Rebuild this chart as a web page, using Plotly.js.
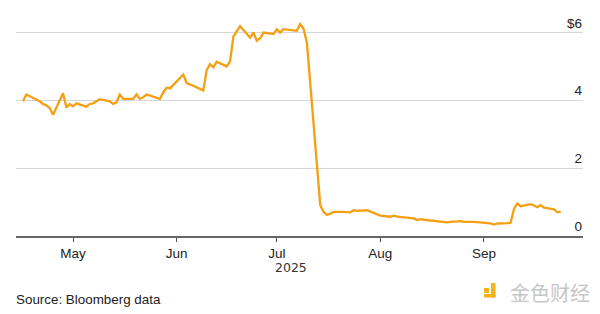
<!DOCTYPE html>
<html>
<head>
<meta charset="utf-8">
<script src="https://cdn.plot.ly/plotly-3.0.1.min.js"></script>
<style>
  html, body { margin: 0; padding: 0; background: #fff; }
  #chart { width: 600px; height: 314px; }
</style>
</head>
<body>
<div id="chart"></div>
<script>
const dates = [
  '2025-04-16','2025-04-17','2025-04-21','2025-04-22','2025-04-23','2025-04-24','2025-04-25',
  '2025-04-28','2025-04-29','2025-04-30','2025-05-01','2025-05-02',
  '2025-05-05','2025-05-06','2025-05-07','2025-05-08','2025-05-09',
  '2025-05-12','2025-05-13','2025-05-14','2025-05-15','2025-05-16',
  '2025-05-19','2025-05-20','2025-05-21','2025-05-22','2025-05-23',
  '2025-05-27','2025-05-28','2025-05-29','2025-05-30',
  '2025-06-02','2025-06-03','2025-06-04','2025-06-05','2025-06-06',
  '2025-06-09','2025-06-10','2025-06-11','2025-06-12','2025-06-13',
  '2025-06-16','2025-06-17','2025-06-18','2025-06-20',
  '2025-06-23','2025-06-24','2025-06-25','2025-06-26','2025-06-27',
  '2025-06-30','2025-07-01','2025-07-02','2025-07-03',
  '2025-07-07','2025-07-08','2025-07-09','2025-07-10','2025-07-11',
  '2025-07-14','2025-07-15','2025-07-16','2025-07-17','2025-07-18',
  '2025-07-21','2025-07-22','2025-07-23','2025-07-24','2025-07-25',
  '2025-07-28','2025-07-29','2025-07-30','2025-07-31','2025-08-01',
  '2025-08-04','2025-08-05','2025-08-06','2025-08-07','2025-08-08',
  '2025-08-11','2025-08-12','2025-08-13','2025-08-14','2025-08-15',
  '2025-08-18','2025-08-19','2025-08-20','2025-08-21','2025-08-22',
  '2025-08-25','2025-08-26','2025-08-27','2025-08-28','2025-08-29',
  '2025-09-02','2025-09-03','2025-09-04','2025-09-05',
  '2025-09-08','2025-09-09','2025-09-10','2025-09-11','2025-09-12',
  '2025-09-15','2025-09-16','2025-09-17','2025-09-18','2025-09-19',
  '2025-09-22','2025-09-23','2025-09-24'
];
const prices = [
  3.98, 4.18, 3.98, 3.90, 3.86, 3.78, 3.58,
  4.22, 3.80, 3.90, 3.83, 3.92,
  3.82, 3.90, 3.92, 3.98, 4.04,
  3.98, 3.90, 3.95, 4.18, 4.05,
  4.05, 4.18, 4.05, 4.10, 4.18,
  4.05, 4.24, 4.38, 4.36,
  4.67, 4.77, 4.52, 4.49, 4.44,
  4.30, 4.90, 5.08, 4.98, 5.15,
  5.01, 5.16, 5.89, 6.20,
  5.86, 6.01, 5.77, 5.84, 6.01,
  5.97, 6.11, 6.01, 6.11,
  6.06, 6.26, 6.12, 5.72, 4.52,
  0.91, 0.71, 0.62, 0.66, 0.71,
  0.71, 0.71, 0.70, 0.76, 0.74,
  0.76, 0.72, 0.66, 0.62, 0.60,
  0.57, 0.60, 0.57, 0.56, 0.54,
  0.52, 0.47, 0.50, 0.48, 0.47,
  0.45, 0.44, 0.42, 0.40, 0.42,
  0.44, 0.42, 0.41, 0.42, 0.42,
  0.39, 0.37, 0.34, 0.37,
  0.38, 0.39, 0.80, 0.96, 0.88,
  0.94, 0.90, 0.85, 0.91, 0.84,
  0.79, 0.70, 0.72
];
const xTickVals = ['2025-05-01','2025-06-01','2025-07-01','2025-08-01','2025-09-01'];
const xTickText = ['May','Jun','Jul','Aug','Sep'];
const yTickVals = [0, 2, 4, 6];
const yTickText = ['0', '2', '4', '$6'];
const yearLabel = '2025';
const sourceText = 'Source: Bloomberg data';
const watermarkText = '金色财经';

const trace = {
  x: dates, y: prices, type: 'scatter', mode: 'lines',
  line: { color: '#f4a012', width: 2.3, shape: 'linear' },
  hoverinfo: 'skip'
};

const L = 16, W = 567, B = 236, H = 227;
const px = (x) => (x - L) / W;
const py = (y) => (B - y) / H;

const layout = {
  width: 600, height: 314,
  margin: { l: 16, r: 17, t: 9, b: 78 },
  paper_bgcolor: '#ffffff', plot_bgcolor: '#ffffff',
  showlegend: false,
  font: { family: 'Liberation Sans, Arial, sans-serif', size: 12, color: '#222' },
  xaxis: {
    type: 'date',
    range: ['2025-04-13 22:00', '2025-09-30 16:00'],
    tickvals: xTickVals, ticktext: xTickText,
    ticks: 'outside', ticklen: 4, tickwidth: 1, tickcolor: '#555',
    showgrid: false, zeroline: false,
    showline: true, linecolor: '#666', linewidth: 1.5,
    tickfont: { size: 13.5, color: '#222' },
    fixedrange: true
  },
  yaxis: {
    range: [0, 6.706],
    side: 'right',
    tickvals: yTickVals, ticktext: yTickText,
    ticklabelposition: 'inside',
    ticklabelshift: -10,
    ticklabelstandoff: -2,
    ticks: '',
    showgrid: true, gridcolor: '#d6d6d6', gridwidth: 1,
    zeroline: false, showline: false,
    tickfont: { size: 13.5, color: '#222' },
    fixedrange: true
  },
  annotations: [
    { xref: 'paper', yref: 'paper', x: px(291), y: py(267),
      text: yearLabel, showarrow: false, xanchor: 'center', yanchor: 'middle',
      font: { size: 12.5, color: '#333', family: 'DejaVu Sans, sans-serif' } },
    { xref: 'paper', yref: 'paper', x: px(14), y: py(299),
      text: sourceText, showarrow: false, xanchor: 'left', yanchor: 'middle',
      font: { size: 13.4, color: '#222' } },
    { xref: 'paper', yref: 'paper', x: px(550), y: py(292),
      text: watermarkText, showarrow: false, xanchor: 'center', yanchor: 'middle',
      font: { size: 20, color: '#c6c6c6', family: 'Noto Sans CJK SC' } }
  ],
  shapes: [
    { type: 'rect', xref: 'paper', yref: 'paper',
      x0: px(484), x1: px(489), y0: py(293), y1: py(288),
      fillcolor: '#f5b31b', line: { width: 0 } },
    { type: 'rect', xref: 'paper', yref: 'paper',
      x0: px(491), x1: px(495.5), y0: py(297.5), y1: py(283),
      fillcolor: '#f5b31b', line: { width: 0 } },
    { type: 'rect', xref: 'paper', yref: 'paper',
      x0: px(484), x1: px(495.5), y0: py(297.5), y1: py(294),
      fillcolor: '#f5b31b', line: { width: 0 } }
  ]
};

Plotly.newPlot('chart', [trace], layout, { staticPlot: true, displayModeBar: false });
</script>
</body>
</html>
